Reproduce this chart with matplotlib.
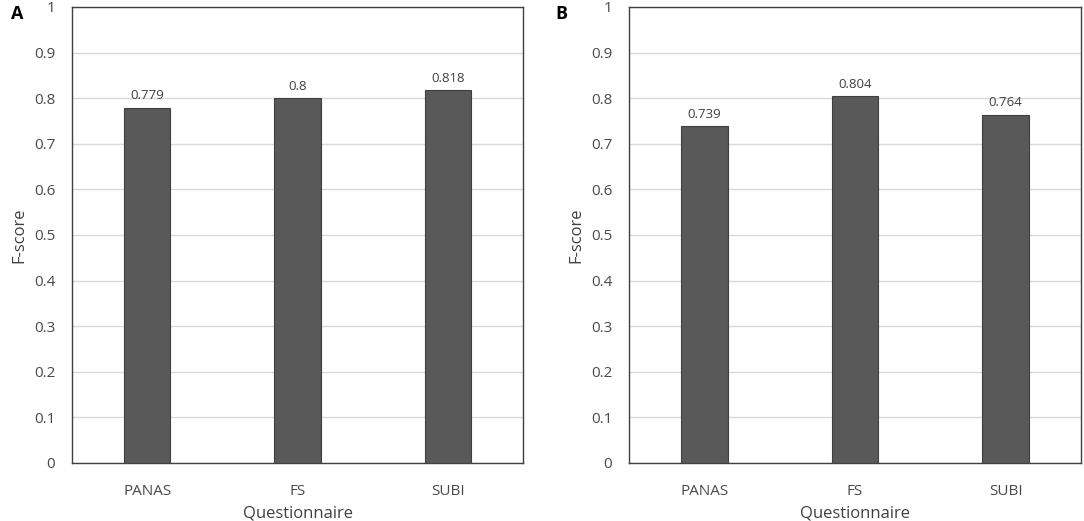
import matplotlib
matplotlib.use("Agg")
import matplotlib.pyplot as plt
import numpy as np

CATEGORIES = ["PANAS", "FS", "SUBI"]
SCORES_A = [0.779, 0.8, 0.818]
SCORES_B = [0.739, 0.804, 0.764]
LABELS_A = ["0.779", "0.8", "0.818"]
LABELS_B = ["0.739", "0.804", "0.764"]
YTICKS = [0, 0.1, 0.2, 0.3, 0.4, 0.5, 0.6, 0.7, 0.8, 0.9, 1.0]
YTICK_LABELS = ["0", "0.1", "0.2", "0.3", "0.4", "0.5", "0.6", "0.7", "0.8", "0.9", "1"]

plt.rcParams["font.family"] = ["Open Sans", "DejaVu Sans"]

W, H = 1084, 521
fig = plt.figure(figsize=(W / 100, H / 100), dpi=100)


def px_axes(left, top, right, bottom):
    return fig.add_axes([left / W, 1 - bottom / H, (right - left) / W, (bottom - top) / H])


def draw_panel(ax, scores, labels):
    x = np.arange(len(CATEGORIES))
    ax.bar(x, scores, width=0.31, color="#595959", edgecolor="#3f3f3f", linewidth=0.8, zorder=3)
    for xi, v, lab in zip(x, scores, labels):
        ax.text(xi, v + 0.012, lab, ha="center", va="bottom", fontsize=9.5, color="#404040")
    ax.set_xlim(-0.5, len(CATEGORIES) - 0.5)
    ax.set_ylim(0, 1)
    ax.set_yticks(YTICKS)
    ax.set_yticklabels(YTICK_LABELS)
    ax.set_xticks(x)
    ax.set_xticklabels(CATEGORIES)
    ax.tick_params(length=0, labelsize=11, colors="#4a4a4a")
    ax.tick_params(axis="y", pad=12)
    ax.tick_params(axis="x", pad=15)
    ax.yaxis.grid(True, color="#d9d9d9", linewidth=1, zorder=0)
    for s in ax.spines.values():
        s.set_color("#404040")
        s.set_linewidth(1)
    ax.set_xlabel("Questionnaire", fontsize=12, color="#404040", labelpad=5)
    ax.set_ylabel("F-score", fontsize=12, color="#404040", labelpad=5)


ax_a = px_axes(72, 7, 523, 463)
draw_panel(ax_a, SCORES_A, LABELS_A)
ax_b = px_axes(629, 7, 1081, 463)
draw_panel(ax_b, SCORES_B, LABELS_B)

fig.text(11 / W, 1 - 14 / H, "A", fontsize=13, fontweight="bold", va="center", ha="left")
fig.text(555 / W, 1 - 14 / H, "B", fontsize=13, fontweight="bold", va="center", ha="left")

fig.savefig("out.png", dpi=100)
